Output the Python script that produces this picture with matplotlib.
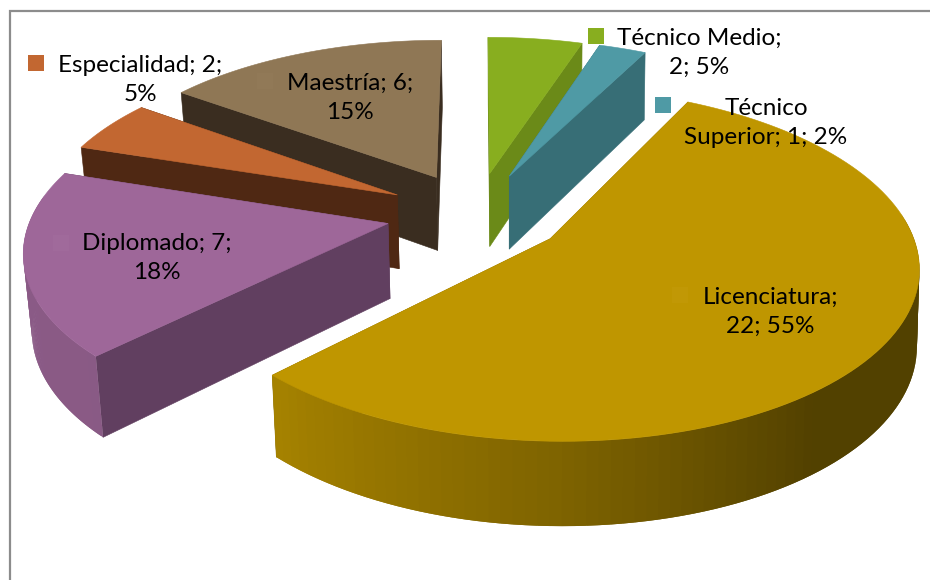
import numpy as np
import matplotlib
matplotlib.use("Agg")
import matplotlib.pyplot as plt
from matplotlib.collections import PolyCollection
from matplotlib.patches import Polygon

categorias = ["Técnico Medio", "Técnico Superior", "Licenciatura", "Diplomado", "Especialidad", "Maestría"]
valores = [2, 1, 22, 7, 2, 6]
porcentajes = [5, 2, 55, 18, 5, 15]

color_cara = ["#88AE1F", "#4F9AA5", "#BF9600", "#9E6799", "#C26731", "#8F7755"]
color_pared = ["#6B8A18", "#376E76", "#8A6C00", "#613F60", "#4F2813", "#3A2D20"]
color_clave = ["#88AE1F", "#4F9AA5", "#C19805", "#A06A9B", "#C26731", "#917957"]

# parametros de la perspectiva, ajustados sobre la imagen
XC, YC, RX, RY, PERSP, EXPLOTA = 476.03, 213.63, 356.02, 166.09, 0.1415, 0.2521

# etiquetas: posicion del texto y de la clave
etiquetas = {
    0: ("Técnico Medio;\n2; 5%", 699, 53, 595.5, 35.5),
    1: ("Técnico\nSuperior; 1; 2%", 766, 123, 662.5, 104.5),
    2: ("Licenciatura;\n22; 55%", 770, 312, 680, 295),
    3: ("Diplomado; 7;\n18%", 157, 258, 60.5, 242.5),
    4: ("Especialidad; 2;\n5%", 140, 80, 35.5, 62.5),
    5: ("Maestría; 6;\n15%", 350, 98, 265, 80.5),
}
orden = [5, 4, 3, 0, 1, 2]

total = sum(valores)
cortes = np.concatenate(([0], np.cumsum(valores) / total * 360))


def proyecta(i, r, th):
    bis = np.radians((cortes[i] + cortes[i + 1]) / 2)
    t = np.radians(th)
    u = EXPLOTA * np.sin(bis) + r * np.sin(t)
    v = EXPLOTA * np.cos(bis) + r * np.cos(t)
    w = 1 / (1 + PERSP * v)
    return XC + RX * u * w, YC - RY * v * w


def baja(x, y):
    # cara inferior: las verticales convergen hacia abajo
    dx = np.where(np.asarray(x) < 500, (500 - np.asarray(x)) * 0.018, (500 - np.asarray(x)) * 0.006)
    return x + dx, y + 65 + 0.045 * y


def sombra(th):
    return np.interp(th, [90, 142, 180, 225, 300], [0.43, 0.43, 0.66, 0.87, 0.88])


fig = plt.figure(figsize=(9.3, 5.8), dpi=100)
ax = fig.add_axes([0, 0, 1, 1])
ax.set_xlim(0, 930)
ax.set_ylim(580, 0)
ax.axis("off")

# marco del grafico
ax.plot([10, 10, 930], [580, 10.5, 10.5], color="#8C8C8C", lw=1.6, solid_joinstyle="miter")

for i in orden:
    t = np.linspace(cortes[i], cortes[i + 1], 120)
    x, y = proyecta(i, 1, t)
    x0, y0 = proyecta(i, 0, 0)
    xb, yb = baja(x, y)
    x0b, y0b = baja(x0, y0)

    # paredes radiales
    for k in [0, -1]:
        pared = [(x0, y0), (x[k], y[k]), (xb[k], yb[k]), (x0b, y0b)]
        ax.add_patch(Polygon(pared, closed=True, fc=color_pared[i], ec=color_pared[i], lw=0.4))

    # borde exterior con degradado, solo la parte que mira al frente
    base = np.array(matplotlib.colors.to_rgb(color_cara[i]))
    tiras = []
    colores = []
    for k in range(len(t) - 1):
        if np.cos(np.radians(t[k])) > 0.15:
            continue
        m = min(k + 2, len(t) - 1)
        tiras.append([(x[k], y[k]), (x[m], y[m]), (xb[m], yb[m]), (xb[k], yb[k])])
        colores.append(base * sombra((t[k] + t[k + 1]) / 2))
    if tiras:
        ax.add_collection(PolyCollection(tiras, facecolors=colores, edgecolors="none", linewidths=0))

    # cara superior
    cara = np.column_stack((np.r_[x0, x], np.r_[y0, y]))
    ax.add_patch(Polygon(cara, closed=True, fc=color_cara[i], ec=color_cara[i], lw=0.4))

for i, (texto, tx, ty, kx, ky) in etiquetas.items():
    ax.scatter([kx], [ky], marker="s", s=122, color=color_clave[i], linewidths=0, zorder=5)
    ax.text(tx, ty, texto, ha="center", va="center", family="Lato", fontsize=17.5,
            color="black", linespacing=1.5, zorder=6)

fig.savefig("out.png", dpi=100)
